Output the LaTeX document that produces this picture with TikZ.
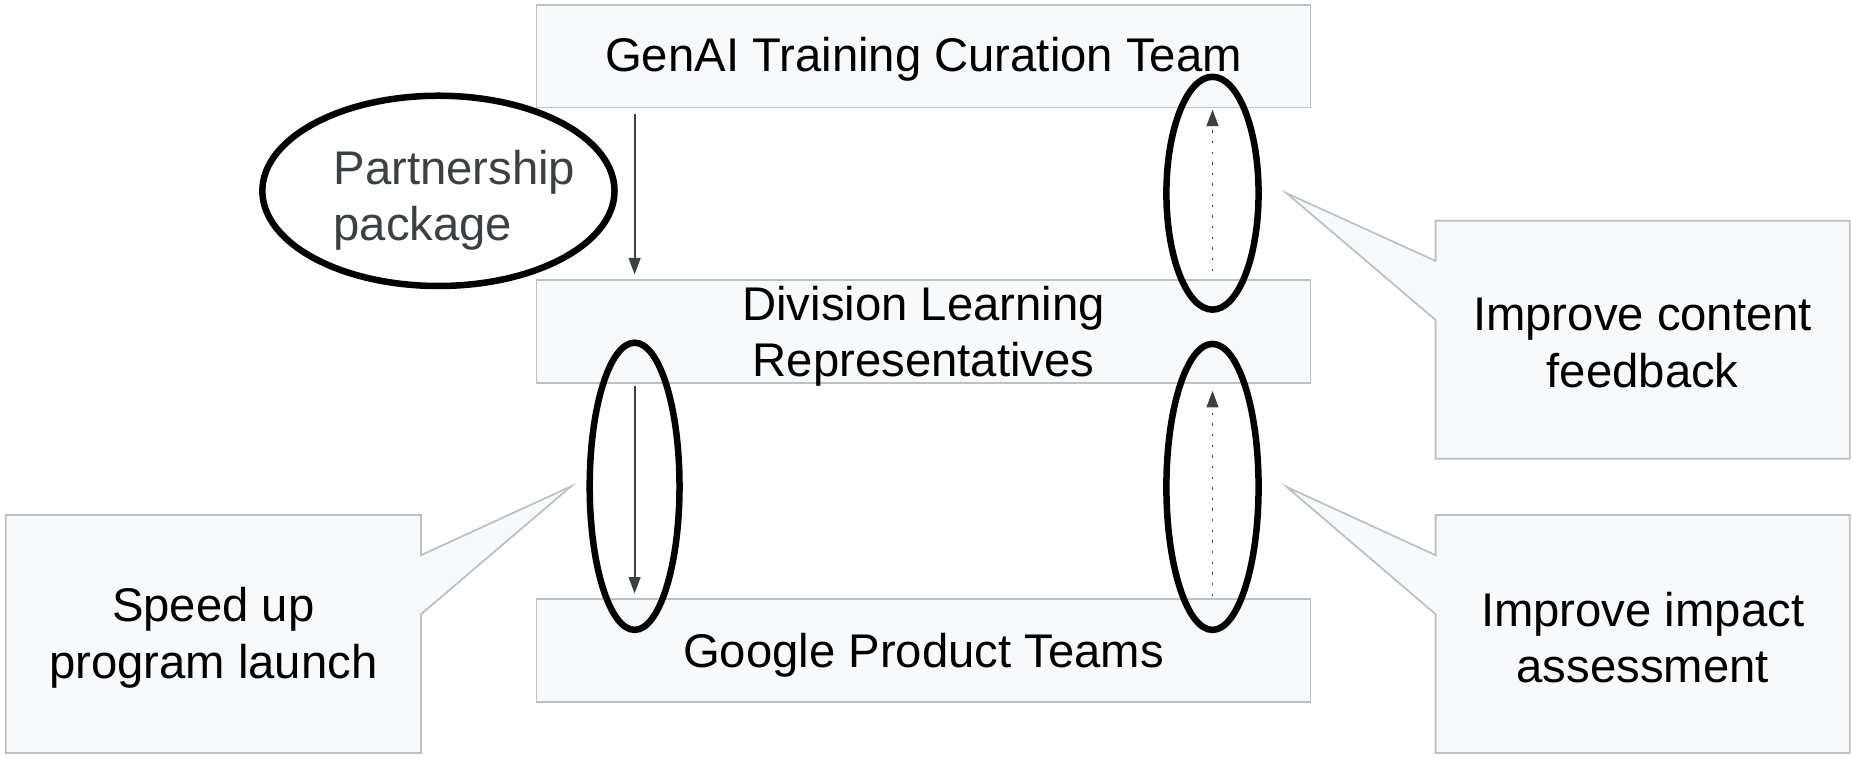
\documentclass[tikz,border=0pt]{standalone}
\usepackage{fontspec}
\setmainfont{Liberation Sans}
\usetikzlibrary{arrows.meta,shapes.geometric,calc,backgrounds}
\definecolor{boxfill}{HTML}{F8F9FA}
\definecolor{boxline}{HTML}{BDC1C6}
\definecolor{arr}{HTML}{3C4043}
\begin{document}
\begin{tikzpicture}[x=1pt,y=-1pt,
  bigtext/.style={align=center, inner sep=0pt, font=\fontsize{40}{48}\selectfont},
  teambox/.style={draw=boxline, fill=boxfill, line width=1.5pt, minimum width=655pt, minimum height=87pt, inner sep=0pt},
  callout/.style={draw=boxline, fill=boxfill, line width=1.5pt, line join=miter},
  ring/.style={draw=black, line width=5.5pt, ellipse, inner sep=0pt},
  flow/.style={draw=arr, line width=1.5pt, -{Triangle[length=14pt,width=10pt]}},
  feedback/.style={flow, dash pattern=on 2pt off 7pt}]
\path[use as bounding box] (0,0) rectangle (1568,641);

% team boxes
\node[teambox, label={[bigtext, yshift=-3pt]center:GenAI Training Curation Team}] (genai) at (781.5,47.5) {};
\node[teambox, label={[bigtext, yshift=-4pt]center:Division Learning\\Representatives}] (dlr) at (781.5,280.5) {};
\node[teambox, label={[bigtext, yshift=-4pt]center:Google Product Teams}] (gpt) at (781.5,550.5) {};

% arrows
\draw[flow] ($(genai.south)+(-244.5,5)$) -- ($(dlr.north)+(-244.5,-4)$);
\draw[flow] ($(dlr.south)+(-244.5,2)$) -- ($(gpt.north)+(-244.5,-4)$);
\draw[feedback] ($(dlr.north)+(244.5,-7)$) -- ($(genai.south)+(244.5,1)$);
\draw[feedback] ($(gpt.north)+(244.5,-2)$) -- ($(dlr.south)+(244.5,6)$);

% rings
\node[ring, minimum width=298pt, minimum height=161pt] (pp) at (371,161.5) {};
\node[anchor=west, bigtext, align=left, text=arr] (pptext) at (282,169.5) {Partnership\\package};
\node[ring, minimum width=78pt, minimum height=197pt] (ringA) at (1026,163.5) {};
\node[ring, minimum width=76pt, minimum height=243pt] (ringB) at (537,411.5) {};
\node[ring, minimum width=78pt, minimum height=242pt] (ringC) at (1026,412) {};

% pointer tips
\coordinate (tipA) at ($(ringA.east)+(21,0)$);
\coordinate (tipB) at ($(ringB.west)+(-13,0)$);
\coordinate (tipC) at ($(ringC.east)+(21,0)$);

% callouts
\node[inner sep=0pt, minimum width=350pt, minimum height=201pt, label={[bigtext, yshift=-3pt]center:Improve content\\feedback}] (cf) at (1390,287.5) {};
\node[inner sep=0pt, minimum width=350pt, minimum height=201pt, label={[bigtext, yshift=-3pt]center:Improve impact\\assessment}] (ia) at (1390,536.5) {};
\node[inner sep=0pt, minimum width=351pt, minimum height=201pt, label={[bigtext, yshift=-3pt]center:Speed up\\program launch}] (su) at (180.5,536.5) {};

\begin{scope}[on background layer]
\draw[callout] (cf.north west) -- (cf.north east) -- (cf.south east) -- (cf.south west)
  -- ($(cf.north west)+(0,84)$) -- (tipA) -- ($(cf.north west)+(0,34)$) -- cycle;
\draw[callout] (ia.north west) -- (ia.north east) -- (ia.south east) -- (ia.south west)
  -- ($(ia.north west)+(0,84)$) -- (tipC) -- ($(ia.north west)+(0,34)$) -- cycle;
\draw[callout] (su.north west) -- (su.north east) -- ($(su.north east)+(0,34)$) -- (tipB)
  -- ($(su.north east)+(0,84)$) -- (su.south east) -- (su.south west) -- cycle;
\end{scope}
\end{tikzpicture}
\end{document}
